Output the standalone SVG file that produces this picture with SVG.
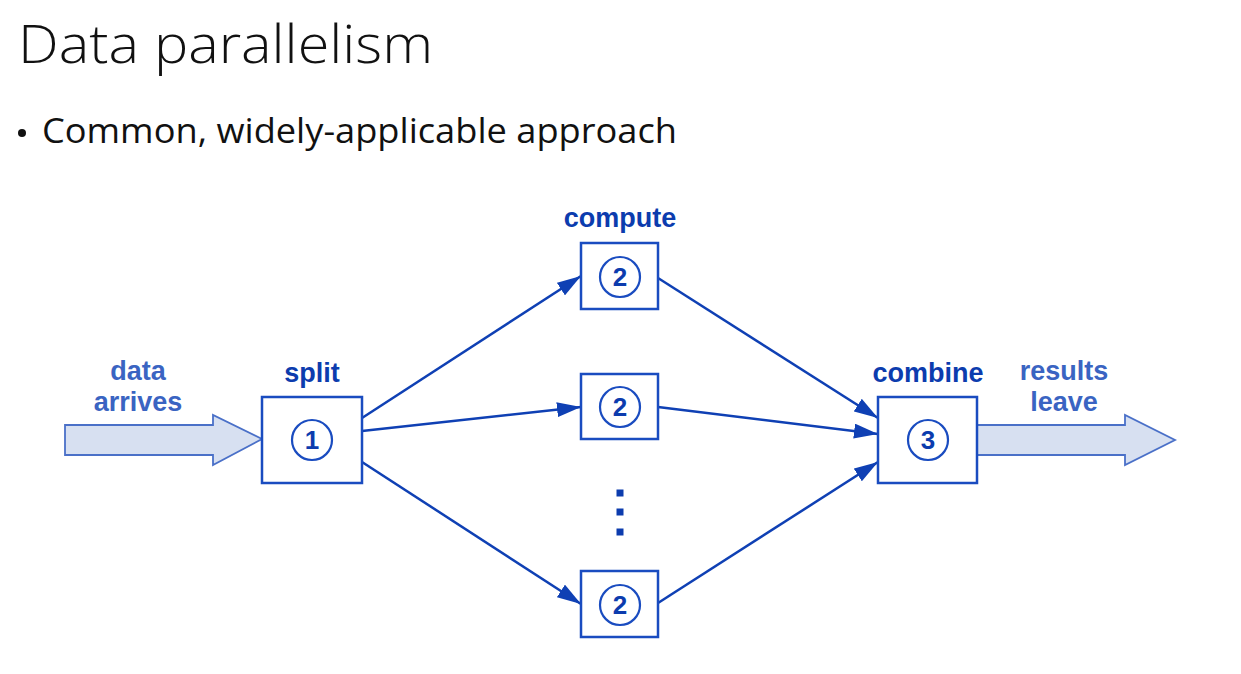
<svg xmlns="http://www.w3.org/2000/svg" width="1241" height="674" viewBox="0 0 1241 674">
<defs>
<style>
.title{font-family:"Open Sans","Liberation Sans",sans-serif;font-weight:300;fill:#111}
.lbl{font-family:"Liberation Sans",Arial,sans-serif;font-weight:bold;font-size:27px;fill:#0c3cae;text-anchor:middle}
.lbl2{font-family:"Liberation Sans",Arial,sans-serif;font-weight:bold;font-size:27px;fill:#3a64c2;text-anchor:middle}
.box{fill:#fff;stroke:#1a4cc0;stroke-width:2.5}
.circ{fill:#fff;stroke:#1a4cc0;stroke-width:2.2}
.num{font-family:"Liberation Sans",Arial,sans-serif;font-weight:bold;font-size:26px;fill:#0c3cae;text-anchor:middle}
.conn{stroke:#0f40b4;stroke-width:2.5;fill:none;marker-end:url(#ah)}
.fat{fill:#d7e0f1;stroke:#4a70c8;stroke-width:1.8}
</style>
<marker id="ah" viewBox="0 0 10 10" refX="10" refY="5" markerUnits="userSpaceOnUse" markerWidth="24" markerHeight="15" preserveAspectRatio="none" orient="auto">
<path d="M0,0 L10,5 L0,10 z" fill="#0f40b4"/>
</marker>
</defs>
<rect width="1241" height="674" fill="#fff"/>
<text class="title" x="18" y="63" font-size="54" textLength="415" lengthAdjust="spacingAndGlyphs">Data parallelism</text>
<circle cx="22" cy="133" r="4" fill="#111"/>
<text class="title" x="42" y="143" font-size="34" style="font-weight:400" textLength="635" lengthAdjust="spacingAndGlyphs">Common, widely-applicable approach</text>

<g id="in-arrow">
<path class="fat" d="M65,425 L213,425 L213,415 L262,439 L213,465 L213,455 L65,455 Z"/>
<text class="lbl2" x="138" y="380">data</text>
<text class="lbl2" x="138" y="411">arrives</text>
</g>
<g id="out-arrow">
<path class="fat" d="M977,425 L1125,425 L1125,415 L1175,440 L1125,465 L1125,455 L977,455 Z"/>
<text class="lbl2" x="1064" y="380">results</text>
<text class="lbl2" x="1064" y="411">leave</text>
</g>

<g id="connectors">
<line class="conn" x1="362" y1="418" x2="581" y2="276"/>
<line class="conn" x1="362" y1="431" x2="581" y2="407"/>
<line class="conn" x1="362" y1="462" x2="581" y2="604"/>
<line class="conn" x1="658" y1="278" x2="878" y2="418"/>
<line class="conn" x1="658" y1="407" x2="878" y2="434"/>
<line class="conn" x1="658" y1="603" x2="878" y2="462"/>
</g>

<g id="split">
<text class="lbl" x="312" y="382">split</text>
<rect class="box" x="262" y="397" width="100" height="86"/>
<circle class="circ" cx="312" cy="440" r="20"/>
<text class="num" x="312" y="449">1</text>
</g>
<g id="compute1">
<text class="lbl" x="620" y="227">compute</text>
<rect class="box" x="581" y="243" width="77" height="66"/>
<circle class="circ" cx="620" cy="277" r="20"/>
<text class="num" x="620" y="286">2</text>
</g>
<g id="compute2">
<rect class="box" x="581" y="374" width="77" height="65"/>
<circle class="circ" cx="620" cy="407" r="20"/>
<text class="num" x="620" y="416">2</text>
</g>
<g id="dots">
<rect x="616.5" y="489.5" width="7" height="7" fill="#0c3cae"/>
<rect x="616.5" y="508.5" width="7" height="7" fill="#0c3cae"/>
<rect x="616.5" y="528.5" width="7" height="7" fill="#0c3cae"/>
</g>
<g id="compute3">
<rect class="box" x="581" y="571" width="77" height="66"/>
<circle class="circ" cx="620" cy="605" r="20"/>
<text class="num" x="620" y="614">2</text>
</g>
<g id="combine">
<text class="lbl" x="928" y="382">combine</text>
<rect class="box" x="878" y="397" width="99" height="86"/>
<circle class="circ" cx="928" cy="440" r="20"/>
<text class="num" x="928" y="449">3</text>
</g>
</svg>
